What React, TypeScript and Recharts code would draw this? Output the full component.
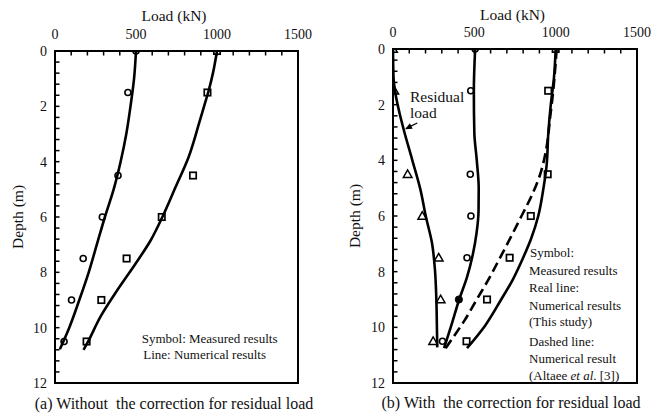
import React from 'react';
import {
  ComposedChart,
  XAxis,
  YAxis,
  Line,
  Scatter,
  ReferenceArea,
  ReferenceLine,
  ReferenceDot,
} from 'recharts';

const FONT = "Liberation Serif, 'Times New Roman', Times, 'DejaVu Serif', serif";

// ---- axis ticks ----
const loadTicks = [0, 100, 200, 300, 400, 500, 600, 700, 800, 900, 1000, 1100, 1200, 1300, 1400, 1500];
const loadLabels = [0, 500, 1000, 1500];
const depthTicks = [
  0, 0.4, 0.8, 1.2, 1.6, 2, 2.4, 2.8, 3.2, 3.6, 4, 4.4, 4.8, 5.2, 5.6, 6, 6.4, 6.8, 7.2, 7.6, 8, 8.4, 8.8,
  9.2, 9.6, 10, 10.4, 10.8, 11.2, 11.6, 12,
];
const depthLabels = [0, 2, 4, 6, 8, 10, 12];

// ---- (a) Without the correction for residual load ----
const aMeasuredCircle = [
  { load: 500, depth: 0 }, { load: 450, depth: 1.5 }, { load: 389, depth: 4.5 }, { load: 292, depth: 6 },
  { load: 174, depth: 7.5 }, { load: 102, depth: 9 }, { load: 56, depth: 10.5 },
];
const aMeasuredSquare = [
  { load: 1000, depth: 0 }, { load: 941, depth: 1.5 }, { load: 852, depth: 4.5 }, { load: 659, depth: 6 },
  { load: 442, depth: 7.5 }, { load: 286, depth: 9 }, { load: 195, depth: 10.5 },
];
const aNumericalCircle = [
  { load: 500, depth: 0 }, { load: 488, depth: 1 }, { load: 466, depth: 2 }, { load: 440, depth: 3 },
  { load: 405, depth: 4 }, { load: 362, depth: 5 }, { load: 308, depth: 6 }, { load: 258, depth: 7 },
  { load: 208, depth: 8 }, { load: 150, depth: 9 }, { load: 88, depth: 10 }, { load: 30, depth: 10.78 },
];
const aNumericalSquare = [
  { load: 1000, depth: 0 }, { load: 975, depth: 0.8 }, { load: 950, depth: 1.4 }, { load: 920, depth: 2 },
  { load: 889, depth: 2.62 }, { load: 825, depth: 3.83 }, { load: 745, depth: 4.91 }, { load: 663, depth: 6 },
  { load: 591, depth: 6.84 }, { load: 498, depth: 7.68 }, { load: 385, depth: 8.64 }, { load: 281, depth: 9.6 },
  { load: 199, depth: 10.56 }, { load: 176, depth: 10.8 },
];

// ---- (b) With the correction for residual load ----
const bMeasuredTriangle = [
  { load: 0, depth: 0 }, { load: 8, depth: 1.5 }, { load: 90, depth: 4.5 }, { load: 180, depth: 6 },
  { load: 281, depth: 7.5 }, { load: 293, depth: 9 }, { load: 247, depth: 10.5 },
];
const bMeasuredCircle = [
  { load: 505, depth: 0 }, { load: 478, depth: 1.5 }, { load: 475, depth: 4.5 }, { load: 479, depth: 6 },
  { load: 455, depth: 7.5 }, { load: 304, depth: 10.5 },
];
const bMeasuredCircleFilled = [{ load: 405, depth: 9 }];
const bMeasuredSquare = [
  { load: 1000, depth: 0 }, { load: 954, depth: 1.5 }, { load: 951, depth: 4.5 }, { load: 847, depth: 6 },
  { load: 717, depth: 7.5 }, { load: 578, depth: 9 }, { load: 452, depth: 10.5 },
];
const bResidualLine = [
  { load: 0, depth: 0 }, { load: 3, depth: 1 }, { load: 15, depth: 1.6 }, { load: 40, depth: 2.3 },
  { load: 66, depth: 2.9 }, { load: 118, depth: 3.98 }, { load: 169, depth: 5.06 }, { load: 202, depth: 6.02 },
  { load: 240, depth: 6.98 }, { load: 258, depth: 7.94 }, { load: 266, depth: 8.9 }, { load: 270, depth: 10 },
  { load: 272, depth: 10.72 },
];
const bNumericalCircle = [
  { load: 505, depth: 0 }, { load: 497, depth: 1.5 }, { load: 500, depth: 3 }, { load: 515, depth: 4 },
  { load: 527, depth: 5 }, { load: 526, depth: 5.8 }, { load: 514, depth: 6.6 }, { load: 490, depth: 7.4 },
  { load: 455, depth: 8.2 }, { load: 407, depth: 9 }, { load: 360, depth: 9.9 }, { load: 314, depth: 10.75 },
];
const bNumericalSquare = [
  { load: 1000, depth: 0 }, { load: 990, depth: 1 }, { load: 970, depth: 2 }, { load: 955, depth: 3 },
  { load: 944, depth: 4.2 }, { load: 925, depth: 5 }, { load: 893, depth: 6 }, { load: 850, depth: 6.8 },
  { load: 800, depth: 7.5 }, { load: 735, depth: 8.3 }, { load: 665, depth: 9 }, { load: 565, depth: 9.95 },
  { load: 455, depth: 10.75 },
];
const bAltaeeDashed = [
  { load: 1006, depth: 0 }, { load: 985, depth: 1.5 }, { load: 965, depth: 2.5 }, { load: 950, depth: 3.3 },
  { load: 928, depth: 4 }, { load: 905, depth: 4.5 }, { load: 850, depth: 5.3 }, { load: 790, depth: 6 },
  { load: 725, depth: 6.75 }, { load: 658, depth: 7.5 }, { load: 590, depth: 8.25 }, { load: 515, depth: 9 },
  { load: 440, depth: 9.75 }, { load: 365, depth: 10.4 }, { load: 312, depth: 10.85 },
];
const residualArrow = [{ load: 149, depth: 2.66 }, { load: 80, depth: 2.86 }];
const residualArrowTip = { load: 74, depth: 2.88 };

// ---- marker shapes ----
const OpenCircle = (p: any) => (
  <circle cx={p.cx} cy={p.cy} r={3} fill="none" stroke="#000" strokeWidth={1.6} />
);
const FilledCircle = (p: any) => (
  <circle cx={p.cx} cy={p.cy} r={3.6} fill="#000" stroke="#000" strokeWidth={1} />
);
const OpenSquare = (p: any) => (
  <rect x={p.cx - 3.2} y={p.cy - 3.2} width={6.4} height={6.4} fill="none" stroke="#000" strokeWidth={1.7} />
);
const OpenTriangle = (p: any) => (
  <polygon
    points={`${p.cx},${p.cy - 4.3} ${p.cx - 4.3},${p.cy + 3.2} ${p.cx + 4.3},${p.cy + 3.2}`}
    fill="none"
    stroke="#000"
    strokeWidth={1.5}
  />
);
const ArrowHead = (p: any) => (
  <polygon
    points="0,0 -7,-3 -7,3"
    fill="#000"
    transform={`translate(${p.cx},${p.cy}) rotate(153)`}
  />
);

const tickStyle = { fill: '#111', fontSize: 14, fontFamily: FONT };

function axes() {
  return [
    <XAxis
      key="x"
      type="number"
      dataKey="load"
      orientation="top"
      domain={[0, 1500]}
      ticks={loadTicks}
      interval={0}
      allowDataOverflow
      height={30}
      tickSize={-4.5}
      tickMargin={16.5}
      tickFormatter={(v: number) => (loadLabels.includes(v) ? String(v) : '')}
      axisLine={{ stroke: '#000', strokeWidth: 2 }}
      tickLine={{ stroke: '#000', strokeWidth: 1.5 }}
      tick={tickStyle}
    />,
    <YAxis
      key="y"
      type="number"
      dataKey="depth"
      reversed
      domain={[0, 12]}
      ticks={depthTicks}
      interval={0}
      allowDataOverflow
      width={40}
      tickSize={-4.5}
      tickMargin={12.5}
      tickFormatter={(v: number) => (depthLabels.includes(v) ? String(v) : '')}
      axisLine={{ stroke: '#000', strokeWidth: 2 }}
      tickLine={{ stroke: '#000', strokeWidth: 1.5 }}
      tick={tickStyle}
    />,
    <ReferenceArea
      key="box"
      x1={0}
      x2={1500}
      y1={0}
      y2={12}
      fill="none"
      fillOpacity={0}
      stroke="#000"
      strokeWidth={2}
      ifOverflow="visible"
    />,
  ];
}

const lineProps = {
  type: 'monotoneY' as const,
  dataKey: 'depth',
  stroke: '#000',
  strokeWidth: 2.6,
  dot: false,
  activeDot: false,
  isAnimationActive: false,
};

export default function App() {
  return (
    <div style={{ position: 'absolute', left: 0, top: 0, width: 669, height: 417, background: '#fff', fontFamily: FONT }}>
      <div style={{ position: 'absolute', left: 0, top: 0 }}>
        <ComposedChart width={330} height={417} margin={{ top: 21, right: 32, bottom: 34, left: 15 }}>
          {axes()}
          <Line {...lineProps} data={aNumericalCircle} />
          <Line {...lineProps} data={aNumericalSquare} />
          <Scatter data={aMeasuredCircle} shape={OpenCircle} isAnimationActive={false} />
          <Scatter data={aMeasuredSquare} shape={OpenSquare} isAnimationActive={false} />
        </ComposedChart>
      </div>
      <div style={{ position: 'absolute', left: 338, top: 0 }}>
        <ComposedChart width={330} height={417} margin={{ top: 19, right: 31, bottom: 34, left: 15 }}>
          {axes()}
          <Line {...lineProps} data={bResidualLine} />
          <Line {...lineProps} data={bNumericalCircle} />
          <Line {...lineProps} data={bNumericalSquare} />
          <Line {...lineProps} data={bAltaeeDashed} strokeDasharray="10 5" />
          <Scatter data={bMeasuredTriangle} shape={OpenTriangle} isAnimationActive={false} />
          <Scatter data={bMeasuredCircle} shape={OpenCircle} isAnimationActive={false} />
          <Scatter data={bMeasuredCircleFilled} shape={FilledCircle} isAnimationActive={false} />
          <Scatter data={bMeasuredSquare} shape={OpenSquare} isAnimationActive={false} />
          <ReferenceLine
            segment={[
              { x: residualArrow[0].load, y: residualArrow[0].depth },
              { x: residualArrow[1].load, y: residualArrow[1].depth },
            ]}
            stroke="#000"
            strokeWidth={1.3}
          />
          <ReferenceDot x={residualArrowTip.load} y={residualArrowTip.depth} shape={ArrowHead} />
        </ComposedChart>
      </div>
      <svg
        width={669}
        height={417}
        style={{ position: 'absolute', left: 0, top: 0, pointerEvents: 'none', fontFamily: FONT }}
        fill="#111"
      >
        <text x={174} y={20.5} fontSize={15.5} textAnchor="middle">Load (kN)</text>
        <text x={512.5} y={19.5} fontSize={15.5} textAnchor="middle">Load (kN)</text>
        <text x={23} y={217} fontSize={15.5} textAnchor="middle" transform="rotate(-90 23 217)">Depth (m)</text>
        <text x={360} y={216} fontSize={15.5} textAnchor="middle" transform="rotate(-90 360 216)">Depth (m)</text>

        <text x={141.7} y={342.7} fontSize={13}>Symbol: Measured results</text>
        <text x={143.3} y={359.3} fontSize={13}>Line: Numerical results</text>

        <text x={410} y={101.5} fontSize={15.5}>Residual</text>
        <text x={410} y={118} fontSize={15.5}>load</text>

        <text x={530} y={256.5} fontSize={13}>Symbol:</text>
        <text x={529} y={274.5} fontSize={13}>Measured results</text>
        <text x={529} y={292} fontSize={13}>Real line:</text>
        <text x={529} y={310} fontSize={13}>Numerical results</text>
        <text x={529} y={326} fontSize={13}>(This study)</text>
        <text x={529} y={346} fontSize={13}>Dashed line:</text>
        <text x={529} y={362.5} fontSize={13}>Numerical result</text>
        <text x={529} y={380} fontSize={13}>
          (Altaee <tspan fontStyle="italic">et al</tspan>. [3])
        </text>

        <text x={174} y={409} fontSize={16} textAnchor="middle" style={{ whiteSpace: 'pre' }}>
          {'(a) Without  the correction for residual load'}
        </text>
        <text x={511} y={408.3} fontSize={16} textAnchor="middle" style={{ whiteSpace: 'pre' }}>
          {'(b) With  the correction for residual load'}
        </text>
      </svg>
    </div>
  );
}
